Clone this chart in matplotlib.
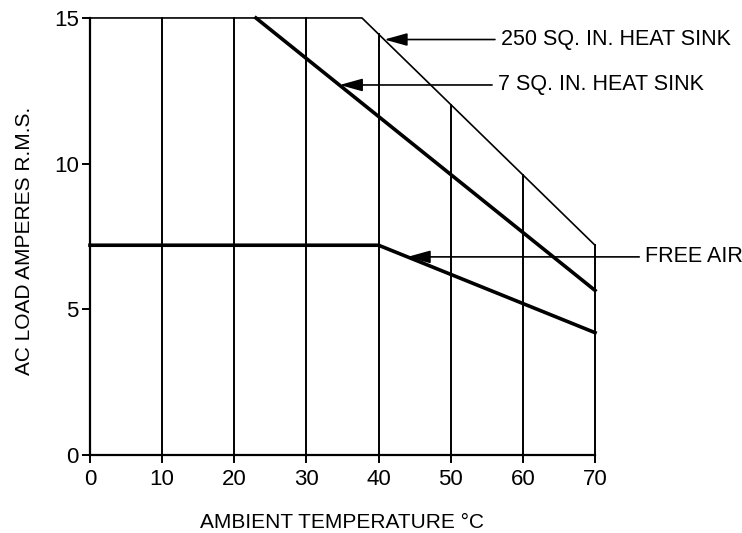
import numpy as np
import matplotlib
matplotlib.use("Agg")
import matplotlib.pyplot as plt

# curve break points (deg C, amps rms)
temp_250 = [0, 37.7, 70]
amps_250 = [15, 15, 7.2]
temp_7 = [23, 70]
amps_7 = [15, 5.65]
temp_free = [0, 40, 70]
amps_free = [7.2, 7.2, 4.2]

x_ticks = [0, 10, 20, 30, 40, 50, 60, 70]
y_ticks = [0, 5, 10, 15]

plt.rcParams['font.family'] = ['Liberation Sans', 'DejaVu Sans']

fig = plt.figure(figsize=(7.42, 5.33), dpi=100)
ax = fig.add_axes([0.1213, 0.1463, 0.6806, 0.8200])
ax.set_xlim(0, 70)
ax.set_ylim(0, 15)

# grid stops at the 250 sq. in. envelope
for xv in x_ticks[1:]:
    top = np.interp(xv, temp_250, amps_250)
    ax.plot([xv, xv], [0, top], color='black', lw=1.4, clip_on=False)
for yv in y_ticks[1:3]:
    xr = np.interp(-yv, [-a for a in amps_250[::-1]], temp_250[::-1])
    ax.plot([0, xr], [yv, yv], color='black', lw=1.4, clip_on=False)

ax.plot(temp_250, amps_250, color='black', lw=1.2, clip_on=False)
ax.plot(temp_7, amps_7, color='black', lw=2.6, clip_on=False)
ax.plot(temp_free, amps_free, color='black', lw=2.6, clip_on=False)

for s in ['top', 'right']:
    ax.spines[s].set_visible(False)
for s in ['left', 'bottom']:
    ax.spines[s].set_linewidth(1.6)

ax.set_xticks(x_ticks)
ax.set_yticks(y_ticks)
ax.tick_params(direction='out', length=6, width=1.4, labelsize=16, pad=2)
ax.tick_params(axis='x', pad=4)

fig.text(342 / 742, 1 - 523 / 533, 'AMBIENT TEMPERATURE °C', fontsize=15,
         ha='center', va='center')
fig.text(25 / 742, 1 - 241 / 533, 'AC LOAD AMPERES R.M.S.', fontsize=15,
         ha='center', va='center', rotation=90)

arrow = dict(arrowstyle='-|>,head_length=0.9,head_width=0.25', color='black', lw=1.2,
             shrinkA=2, shrinkB=0)
labels = [
    ('250 SQ. IN. HEAT SINK', 40.8, 14.26, 56.9),
    ('7 SQ. IN. HEAT SINK', 34.6, 12.7, 56.5),
    ('FREE AIR', 44.0, 6.8, 76.9),
]
for txt, xp, yp, xt in labels:
    ax.annotate(txt, xy=(xp, yp), xytext=(xt, yp), fontsize=15.5, va='center',
                ha='left', arrowprops=arrow, annotation_clip=False)

fig.savefig('out.png', dpi=100)
